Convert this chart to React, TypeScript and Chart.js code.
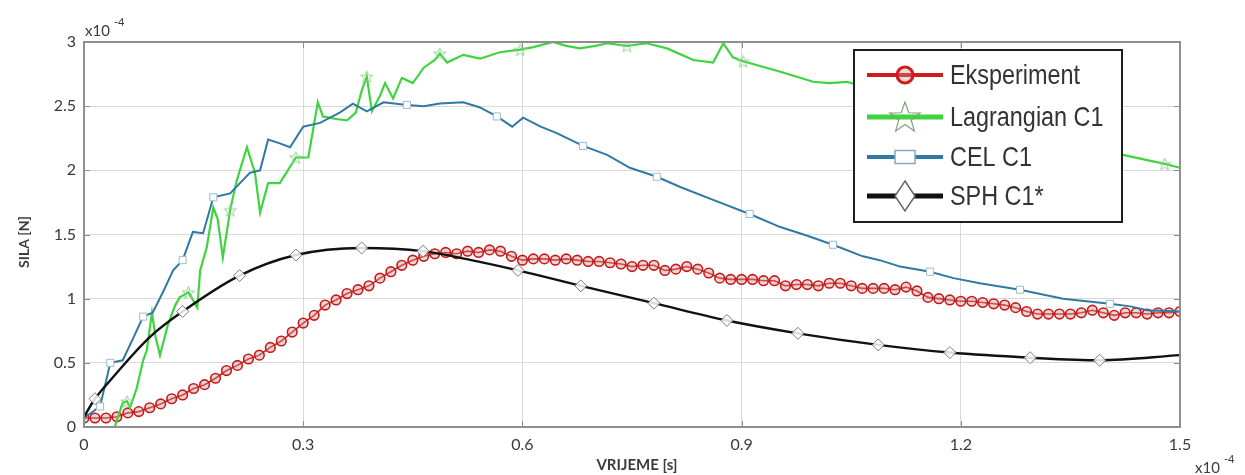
import React, { useEffect, useRef } from "react";
import { Chart, registerables } from "chart.js";

Chart.register(...registerables);

// ---------- text / ticks ----------
const X_TICKS = [0, 0.3, 0.6, 0.9, 1.2, 1.5];
const X_TICK_LABELS = ["0", "0.3", "0.6", "0.9", "1.2", "1.5"];
const Y_TICKS = [0, 0.5, 1, 1.5, 2, 2.5, 3];
const Y_TICK_LABELS = ["0", "0.5", "1", "1.5", "2", "2.5", "3"];
const SERIES_NAMES = ["Eksperiment", "Lagrangian C1", "CEL C1", "SPH C1*"];
const X_TITLE = "VRIJEME [s]";
const Y_TITLE = "SILA [N]";
const EXP_BASE = "x10";
const EXP_POWER = "-4";

// ---------- data (x in 1e-4 s, y in 1e-4 N) ----------
const EKSP_T0 = 0;
const EKSP_DT = 0.015;
const EKSP_Y = [
  0.07, 0.07, 0.07, 0.08, 0.11, 0.12, 0.15, 0.18, 0.22, 0.25,
  0.30, 0.33, 0.38, 0.44, 0.48, 0.53, 0.56, 0.62, 0.67, 0.74,
  0.81, 0.87, 0.95, 0.99, 1.04, 1.07, 1.10, 1.16, 1.21, 1.26,
  1.30, 1.33, 1.35, 1.36, 1.35, 1.37, 1.36, 1.38, 1.37, 1.33,
  1.30, 1.31, 1.31, 1.30, 1.31, 1.30, 1.29, 1.29, 1.28, 1.27,
  1.25, 1.26, 1.26, 1.22, 1.23, 1.25, 1.23, 1.20, 1.16, 1.15,
  1.15, 1.15, 1.14, 1.14, 1.10, 1.11, 1.11, 1.10, 1.12, 1.12,
  1.10, 1.08, 1.08, 1.08, 1.07, 1.09, 1.06, 1.01, 1.00, 0.99,
  0.98, 0.98, 0.97, 0.96, 0.95, 0.93, 0.90, 0.88, 0.88, 0.88,
  0.88, 0.89, 0.91, 0.89, 0.87, 0.89, 0.89, 0.88, 0.89, 0.89, 0.90,
];

const LAG_X = [
  0, 0.042, 0.053, 0.059, 0.063, 0.072, 0.081, 0.086, 0.093, 0.098,
  0.104, 0.115, 0.125, 0.131, 0.143, 0.155, 0.159, 0.168, 0.177, 0.183,
  0.19, 0.2, 0.209, 0.223, 0.234, 0.241, 0.252, 0.268, 0.29, 0.307,
  0.32, 0.327, 0.345, 0.36, 0.372, 0.38, 0.387, 0.394, 0.405, 0.412,
  0.423, 0.435, 0.45, 0.465, 0.48, 0.487, 0.497, 0.519, 0.542, 0.569,
  0.597, 0.615, 0.642, 0.66, 0.679, 0.7, 0.716, 0.743, 0.77, 0.798,
  0.834, 0.861, 0.875, 0.888, 0.902, 0.952, 0.998, 1.02, 1.044, 1.1,
  1.2, 1.3, 1.4, 1.422, 1.479, 1.5,
];
const LAG_Y = [
  0, 0, 0.19, 0.2, 0.15, 0.3, 0.52, 0.6, 0.89, 0.7,
  0.56, 0.8, 0.95, 1.01, 1.05, 0.93, 1.22, 1.4, 1.71, 1.62,
  1.32, 1.69, 1.92, 2.18, 1.98, 1.67, 1.9, 1.9, 2.1, 2.1,
  2.53, 2.42, 2.4, 2.39, 2.45, 2.62, 2.73, 2.46, 2.58, 2.68,
  2.56, 2.72, 2.68, 2.8, 2.86, 2.91, 2.84, 2.9, 2.87, 2.92,
  2.94, 2.96, 3.0, 2.97, 2.95, 2.97, 2.99, 2.97, 2.99, 2.95,
  2.86, 2.84, 2.99, 2.88, 2.85, 2.77, 2.69, 2.68, 2.69, 2.6,
  2.45, 2.32, 2.17, 2.12, 2.05, 2.02,
];

const CEL_X = [
  0, 0.022, 0.036, 0.053, 0.068, 0.081, 0.094, 0.108, 0.122, 0.135,
  0.149, 0.163, 0.177, 0.2, 0.227, 0.241, 0.252, 0.268, 0.282, 0.3,
  0.323, 0.35, 0.368, 0.387, 0.41, 0.442, 0.465, 0.487, 0.519, 0.542,
  0.565, 0.586, 0.601, 0.625, 0.647, 0.683, 0.716, 0.747, 0.784, 0.816,
  0.861, 0.911, 0.952, 0.99, 1.025, 1.066, 1.089, 1.117, 1.158, 1.19,
  1.226, 1.281, 1.34, 1.404, 1.432, 1.455, 1.5,
];
const CEL_Y = [
  0.07, 0.16, 0.5, 0.52, 0.7, 0.86, 0.89, 1.05, 1.22, 1.3,
  1.52, 1.51, 1.79, 1.82, 1.98, 2.0, 2.24, 2.21, 2.18, 2.34,
  2.37, 2.45, 2.52, 2.46, 2.53, 2.51, 2.5, 2.52, 2.53, 2.49,
  2.42, 2.34, 2.41, 2.34, 2.29, 2.19, 2.12, 2.02, 1.95, 1.87,
  1.77, 1.66, 1.56, 1.49, 1.42, 1.33, 1.3, 1.25, 1.21, 1.16,
  1.12, 1.07, 1.0, 0.96, 0.94, 0.91, 0.9,
];

const SPH_X = [
  0, 0.015, 0.037, 0.09, 0.135, 0.213, 0.29, 0.38, 0.464, 0.53,
  0.594, 0.68, 0.78, 0.88, 0.977, 1.087, 1.185, 1.295, 1.39, 1.5,
];
const SPH_Y = [
  0.08, 0.22, 0.37, 0.7, 0.9, 1.18, 1.34, 1.395, 1.37, 1.3,
  1.22, 1.1, 0.965, 0.83, 0.73, 0.64, 0.58, 0.54, 0.52, 0.56,
];

// which samples carry a marker
const LAG_MARKS = [3, 14, 21, 28, 36, 45, 50, 57, 64, 74];
const CEL_MARKS = [1, 2, 5, 9, 12, 25, 30, 35, 38, 41, 44, 48, 51, 53];
const SPH_MARKS = [1, 4, 5, 6, 7, 8, 10, 11, 12, 13, 14, 15, 16, 17, 18];

// ---------- styles ----------
const RED = "#cf1c1c";
const GREEN = "#3fd43f";
const BLUE = "#2f79a3";
const BLACK = "#111111";
const TICK_FONT = "Lato";
const LEGEND_FONT = "'Liberation Sans', Arial, sans-serif";

function makeStar(size: number, stroke: string, lw: number): HTMLCanvasElement {
  const c = document.createElement("canvas");
  c.width = size;
  c.height = size;
  const g = c.getContext("2d")!;
  starPath(g, size / 2, size / 2 + size * 0.05, size / 2 - 1, (size / 2 - 1) * 0.42);
  g.strokeStyle = stroke;
  g.lineWidth = lw;
  g.stroke();
  return c;
}

function starPath(g: CanvasRenderingContext2D, cx: number, cy: number, ro: number, ri: number, sy = 1) {
  g.beginPath();
  for (let i = 0; i < 10; i++) {
    const r = i % 2 === 0 ? ro : ri;
    const a = -Math.PI / 2 + (i * Math.PI) / 5;
    const x = cx + r * Math.cos(a);
    const y = cy + r * Math.sin(a) * sy;
    if (i === 0) g.moveTo(x, y);
    else g.lineTo(x, y);
  }
  g.closePath();
}

const overlayPlugin = {
  id: "overlay",
  afterDatasetsDraw(chart: any) {
    const { ctx, chartArea: a, scales } = chart;
    ctx.save();
    // inward tick marks on all four sides
    ctx.strokeStyle = "#8c8c8c";
    ctx.lineWidth = 1;
    const tl = 6;
    X_TICKS.forEach((v) => {
      const px = Math.round(scales.x.getPixelForValue(v)) + 0.5;
      ctx.beginPath();
      ctx.moveTo(px, a.bottom);
      ctx.lineTo(px, a.bottom - tl);
      ctx.moveTo(px, a.top);
      ctx.lineTo(px, a.top + tl);
      ctx.stroke();
    });
    Y_TICKS.forEach((v) => {
      const py = Math.round(scales.y.getPixelForValue(v)) + 0.5;
      ctx.beginPath();
      ctx.moveTo(a.left, py);
      ctx.lineTo(a.left + tl, py);
      ctx.moveTo(a.right, py);
      ctx.lineTo(a.right - tl, py);
      ctx.stroke();
    });
    // frame
    ctx.strokeStyle = "#8f8f8f";
    ctx.lineWidth = 2;
    ctx.strokeRect(a.left, a.top, a.right - a.left, a.bottom - a.top);
    ctx.restore();
  },
  afterDraw(chart: any) {
    const { ctx } = chart;
    ctx.save();
    // axis titles
    ctx.fillStyle = "#3c3c3c";
    ctx.font = `bold 14px ${TICK_FONT}`;
    ctx.textAlign = "center";
    ctx.textBaseline = "middle";
    ctx.save();
    ctx.translate(24, 242);
    ctx.rotate(-Math.PI / 2);
    ctx.fillText(Y_TITLE, 0, 0);
    ctx.restore();
    ctx.font = `bold 15px ${TICK_FONT}`;
    ctx.fillText(X_TITLE, 637, 465);

    // exponent labels
    ctx.textAlign = "left";
    ctx.textBaseline = "alphabetic";
    ctx.font = `15px ${TICK_FONT}`;
    ctx.fillText(EXP_BASE, 85, 36);
    ctx.fillText(EXP_BASE, 1195, 473);
    ctx.font = `11px ${TICK_FONT}`;
    ctx.fillText(EXP_POWER, 114, 26);
    ctx.fillText(EXP_POWER, 1224, 463);

    // legend
    const bx = 854, by = 50, bw = 268, bh = 172;
    ctx.fillStyle = "#ffffff";
    ctx.fillRect(bx, by, bw, bh);
    ctx.strokeStyle = "#1e1e1e";
    ctx.lineWidth = 2;
    ctx.strokeRect(bx, by, bw, bh);

    const rows = [75, 117, 157, 196];
    const lineCols = [RED, GREEN, BLUE, BLACK];
    const lineW = [4, 5, 4, 5];
    const lx0 = 867, lx1 = 943, mx = 905;
    rows.forEach((ry, i) => {
      ctx.strokeStyle = lineCols[i];
      ctx.lineWidth = lineW[i];
      ctx.beginPath();
      ctx.moveTo(lx0, ry);
      ctx.lineTo(lx1, ry);
      ctx.stroke();
      ctx.lineWidth = 1.5;
      if (i === 0) {
        ctx.beginPath();
        ctx.arc(mx, ry, 8, 0, Math.PI * 2);
        ctx.fillStyle = "rgba(200,150,150,0.35)";
        ctx.fill();
        ctx.strokeStyle = RED;
        ctx.lineWidth = 3;
        ctx.stroke();
      } else if (i === 1) {
        starPath(ctx, mx, ry + 1, 16, 6.5, 1);
        ctx.strokeStyle = "#7fa07f";
        ctx.lineWidth = 1.2;
        ctx.stroke();
      } else if (i === 2) {
        ctx.fillStyle = "#ffffff";
        ctx.fillRect(mx - 10, ry - 6.5, 20, 13);
        ctx.strokeStyle = "#86a9bd";
        ctx.strokeRect(mx - 10, ry - 6.5, 20, 13);
      } else {
        ctx.beginPath();
        ctx.moveTo(mx, ry - 15);
        ctx.lineTo(mx + 10, ry);
        ctx.lineTo(mx, ry + 15);
        ctx.lineTo(mx - 10, ry);
        ctx.closePath();
        ctx.fillStyle = "#ffffff";
        ctx.fill();
        ctx.strokeStyle = "#666666";
        ctx.stroke();
      }
      // label
      ctx.save();
      ctx.translate(950, ry + 9);
      ctx.scale(0.9, 1.05);
      ctx.fillStyle = "#333333";
      ctx.font = `26px ${LEGEND_FONT}`;
      ctx.textAlign = "left";
      ctx.textBaseline = "alphabetic";
      ctx.fillText(SERIES_NAMES[i], 0, 0);
      ctx.restore();
    });
    ctx.restore();
  },
};

export default function App() {
  const ref = useRef<HTMLCanvasElement | null>(null);

  useEffect(() => {
    if (!ref.current) return;
    const starImg = makeStar(15, "#8fcf8f", 1);

    const eksp = EKSP_Y.map((y, i) => ({ x: +(EKSP_T0 + i * EKSP_DT).toFixed(4), y }));
    const lag = LAG_X.map((x, i) => ({ x, y: LAG_Y[i] }));
    const cel = CEL_X.map((x, i) => ({ x, y: CEL_Y[i] }));
    const sph = SPH_X.map((x, i) => ({ x, y: SPH_Y[i] }));

    const chart = new Chart(ref.current, {
      type: "line",
      data: {
        datasets: [
          {
            label: SERIES_NAMES[0],
            data: eksp,
            borderColor: RED,
            borderWidth: 1.6,
            pointStyle: "circle",
            pointRadius: 4.8,
            pointBorderWidth: 1.6,
            pointBorderColor: "#c81818",
            pointBackgroundColor: "rgba(200,150,150,0.4)",
            tension: 0,
            order: 3,
          },
          {
            label: SERIES_NAMES[1],
            data: lag,
            borderColor: GREEN,
            borderWidth: 2.2,
            pointStyle: starImg as any,
            pointRadius: (c: any) => (LAG_MARKS.includes(c.dataIndex) ? 7 : 0),
            tension: 0,
            order: 2,
          },
          {
            label: SERIES_NAMES[2],
            data: cel,
            borderColor: BLUE,
            borderWidth: 2,
            pointStyle: "rect",
            pointRadius: (c: any) => (CEL_MARKS.includes(c.dataIndex) ? 5 : 0),
            pointBorderWidth: 1,
            pointBorderColor: "#9dbccc",
            pointBackgroundColor: "#ffffff",
            tension: 0,
            order: 1,
          },
          {
            label: SERIES_NAMES[3],
            data: sph,
            borderColor: BLACK,
            borderWidth: 2.4,
            pointStyle: "rectRot",
            pointRadius: (c: any) => (SPH_MARKS.includes(c.dataIndex) ? 6 : 0),
            pointBorderWidth: 1,
            pointBorderColor: "#7a7a7a",
            pointBackgroundColor: "rgba(255,255,255,0.85)",
            cubicInterpolationMode: "monotone",
            order: 0,
          },
        ] as any,
      },
      options: {
        responsive: false,
        animation: false,
        devicePixelRatio: 1,
        layout: { padding: { top: 42, right: 65, left: 0, bottom: 0 } },
        plugins: { legend: { display: false }, tooltip: { enabled: false } },
        scales: {
          x: {
            type: "linear",
            min: 0,
            max: 1.5,
            afterBuildTicks: (s: any) => {
              s.ticks = X_TICKS.map((v) => ({ value: v }));
            },
            afterFit: (s: any) => {
              s.height = 48;
            },
            ticks: {
              callback: (_v: any, i: number) => X_TICK_LABELS[i],
              font: { family: TICK_FONT, size: 16 },
              color: "#3a3a3a",
              padding: 8,
              maxRotation: 0,
              autoSkip: false,
            },
            grid: { color: "#dadada", lineWidth: 1, drawTicks: false },
            border: { display: false },
          },
          y: {
            type: "linear",
            min: 0,
            max: 3,
            afterBuildTicks: (s: any) => {
              s.ticks = Y_TICKS.map((v) => ({ value: v }));
            },
            afterFit: (s: any) => {
              s.width = 84;
            },
            ticks: {
              callback: (_v: any, i: number) => Y_TICK_LABELS[i],
              font: { family: TICK_FONT, size: 16 },
              color: "#3a3a3a",
              padding: 8,
              autoSkip: false,
            },
            grid: { color: "#dadada", lineWidth: 1, drawTicks: false },
            border: { display: false },
          },
        },
      } as any,
      plugins: [overlayPlugin],
    });
    return () => chart.destroy();
  }, []);

  return (
    <div style={{ position: "absolute", left: 0, top: 0, width: 1245, height: 475, background: "#fff" }}>
      <canvas ref={ref} width={1245} height={475} style={{ display: "block" }} />
    </div>
  );
}
